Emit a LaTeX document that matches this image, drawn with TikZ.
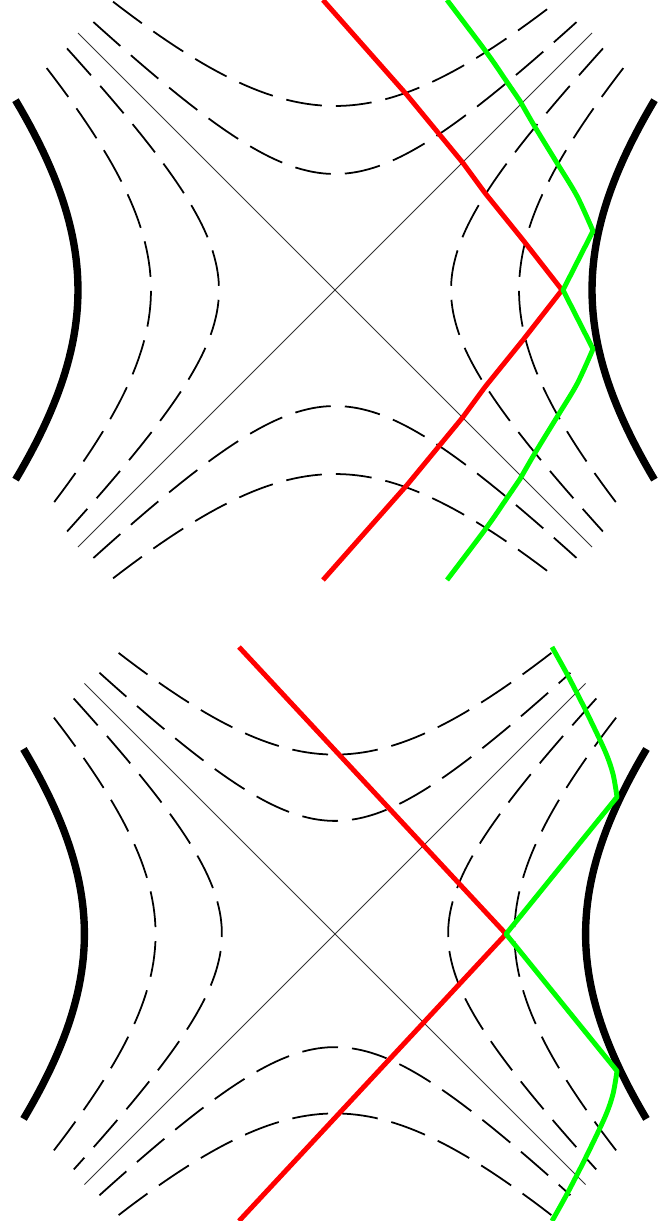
\documentclass[tikz,border=0pt]{standalone}
\usepackage{xcolor}
\usepackage{tikz}
\definecolor{rayred}{HTML}{FF0000}
\definecolor{raygreen}{HTML}{00FF00}
\definecolor{conegray}{HTML}{333333}
\tikzset{
  wall/.style={line width=4.2pt, draw=black},
  slice/.style={line width=1pt, draw=black, dash pattern=on 20.5pt off 8pt},
  cone/.style={line width=0.5pt, draw=conegray},
  redray/.style={line width=2.8pt, draw=rayred, line join=round},
  greenray/.style={line width=2.8pt, draw=raygreen, line join=round}
}
\newcommand{\rindlerpanel}{%
  \draw[cone] (-257,-257) -- (257,257);
  \draw[cone] (-257,257) -- (257,-257);
  \draw[slice] plot[domain=-1.48:1.48, samples=70] ({116*cosh(\x)},{116*sinh(\x)});
  \draw[slice] plot[domain=-1.02:1.02, samples=60] ({184*cosh(\x)},{184*sinh(\x)});
  \draw[slice] plot[domain=-1.48:1.48, samples=70] ({-116*cosh(\x)},{116*sinh(\x)});
  \draw[slice] plot[domain=-1.02:1.02, samples=60] ({-184*cosh(\x)},{184*sinh(\x)});
  \draw[slice] plot[domain=-1.48:1.48, samples=70] ({116*sinh(\x)},{-116*cosh(\x)});
  \draw[slice] plot[domain=-1.02:1.02, samples=60] ({184*sinh(\x)},{-184*cosh(\x)});
  \draw[slice] plot[domain=-1.48:1.48, samples=70] ({116*sinh(\x)},{116*cosh(\x)});
  \draw[slice] plot[domain=-1.02:1.02, samples=60] ({184*sinh(\x)},{184*cosh(\x)});
  \draw[wall] plot[domain=-0.684:0.684, samples=50] ({257*cosh(\x)},{257*sinh(\x)});
  \draw[wall] plot[domain=-0.684:0.684, samples=50] ({-257*cosh(\x)},{257*sinh(\x)});
}

\begin{document}
\begin{tikzpicture}[x=0.02cm,y=-0.02cm]
\path[use as bounding box] (0,0) rectangle (669,1221);
\fill[white] (0,0) rectangle (669,1221);

\begin{scope}[shift={(335,290)}]
  \rindlerpanel
  \draw[redray] (-12,-290) -- (72,-195) -- (128,-127) -- (150,-97) -- (188,-50) -- (227,0)
    -- (188,50) -- (150,97) -- (128,127) -- (72,195) -- (-12,290);
  \draw[greenray] plot[smooth] coordinates {(112,-290) (152,-237) (172,-208) (185,-189)}
    -- plot[smooth] coordinates {(185,-189) (200,-163) (222,-127) (242,-94) (258,-59)}
    -- (228,0) -- (258,59)
    -- plot[smooth] coordinates {(258,59) (242,94) (222,127) (200,163) (185,189)}
    -- plot[smooth] coordinates {(185,189) (172,208) (152,237) (112,290)};
\end{scope}

\begin{scope}[shift={(335,934)}]
  \begin{scope}[scale=0.975]
    \rindlerpanel
  \end{scope}
  \draw[redray] (-96,-287) -- (171,0) -- (-96,287);
  \draw[greenray] plot[smooth] coordinates {(217,-287) (232,-260) (250,-225) (270,-183) (278,-160) (282,-137)}
    -- (171,0) -- plot[smooth] coordinates {(282,137) (278,160) (270,183) (250,225) (232,260) (217,287)};
\end{scope}

\end{tikzpicture}
\end{document}
